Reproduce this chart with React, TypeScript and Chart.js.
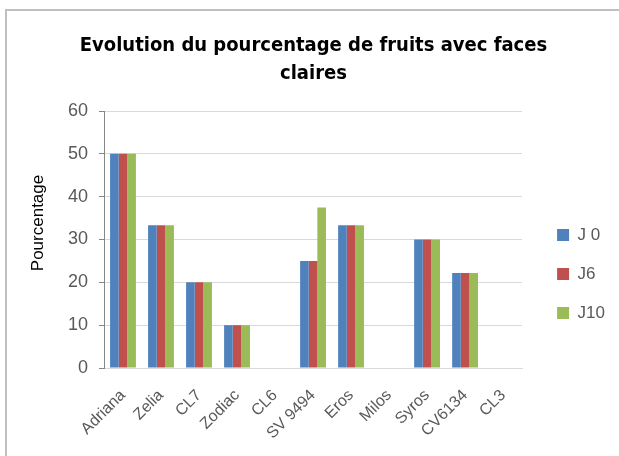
import React, { useEffect, useRef } from "react";
import { Chart, registerables } from "chart.js";

Chart.register(...registerables);

const categories = ["Adriana", "Zelia", "CL7", "Zodiac", "CL6", "SV 9494", "Eros", "Milos", "Syros", "CV6134", "CL3"];
const j0 = [50, 33.3, 20, 10, 0, 25, 33.3, 0, 30, 22.2, 0];
const j6 = [50, 33.3, 20, 10, 0, 25, 33.3, 0, 30, 22.2, 0];
const j10 = [50, 33.3, 20, 10, 0, 37.5, 33.3, 0, 30, 22.2, 0];
const seriesNames = ["J 0", "J6", "J10"];
const titleLines = ["Evolution du pourcentage de fruits avec faces", "claires"];
const yTicks = [0, 10, 20, 30, 40, 50, 60];

const framePlugin = {
  id: "frame",
  beforeDraw(chart: any) {
    const ctx = chart.ctx;
    ctx.save();
    ctx.fillStyle = "#FFFFFF";
    ctx.fillRect(0, 0, chart.width, chart.height);
    ctx.fillStyle = "#BFBFBF";
    ctx.fillRect(5, 9, chart.width, 2);
    ctx.fillRect(5, 9, 2, chart.height);
    ctx.restore();
  },
};

export default function App() {
  const ref = useRef<HTMLCanvasElement | null>(null);
  useEffect(() => {
    document.body.style.margin = "0";
    document.body.style.overflow = "hidden";
    document.documentElement.style.overflow = "hidden";
    if (!ref.current) return;
    const chart = new Chart(ref.current, {
      type: "bar",
      data: {
        labels: categories,
        datasets: [
          { label: seriesNames[0], data: j0, backgroundColor: "#4F81BD" },
          { label: seriesNames[1], data: j6, backgroundColor: "#C0504D" },
          { label: seriesNames[2], data: j10, backgroundColor: "#9BBB59" },
        ],
      },
      plugins: [framePlugin],
      options: {
        animation: false,
        responsive: false,
        devicePixelRatio: 1,
        layout: { padding: { left: 12, right: 4, top: 0, bottom: 0 } },
        datasets: { bar: { categoryPercentage: 0.68, barPercentage: 1 } },
        plugins: {
          title: {
            display: true,
            text: titleLines,
            color: "#000000",
            font: { family: "'Liberation Sans Narrow', 'DejaVu Sans Condensed', sans-serif", size: 20, weight: "bold", lineHeight: 1.4 },
            padding: { top: 32, bottom: 23 },
          },
          legend: {
            position: "right",
            title: {
              display: true,
              text: " ",
              font: { size: 10, lineHeight: 1 },
              padding: { top: 82, bottom: 0 },
            },
            labels: {
              boxWidth: 12,
              boxHeight: 12,
              padding: 22,
              color: "#595959",
              font: { family: "'Liberation Sans', sans-serif", size: 17 },
            },
          },
          tooltip: { enabled: false },
        },
        scales: {
          x: {
            grid: { display: false },
            border: { display: true, color: "#D9D9D9" },
            ticks: {
              color: "#595959",
              font: { family: "'Liberation Sans', sans-serif", size: 16 },
              maxRotation: 45,
              minRotation: 45,
              autoSkip: false,
              padding: 10,
            },
            afterFit: (s: any) => {
              s.height = 88;
            },
          },
          y: {
            min: 0,
            max: 60,
            afterBuildTicks: (s: any) => {
              s.ticks = yTicks.map((v) => ({ value: v }));
            },
            grid: { color: "#D9D9D9", tickColor: "#868686", tickLength: 5 },
            border: { display: true, color: "#868686" },
            ticks: {
              color: "#595959",
              font: { family: "'Liberation Sans', sans-serif", size: 18 },
              padding: 11,
            },
            title: {
              display: true,
              text: "       Pourcentage",
              color: "#000000",
              font: { family: "'Liberation Sans', sans-serif", size: 17 },
              padding: { top: 16, bottom: 4 },
            },
            afterFit: (s: any) => {
              s.width = 92;
            },
          },
          y2: {
            position: "right",
            display: true,
            grid: { display: false },
            border: { display: false },
            ticks: { display: false },
            afterFit: (s: any) => {
              s.width = 13;
            },
          },
        },
      },
    });
    return () => chart.destroy();
  }, []);
  return (
    <div style={{ width: 619, height: 456, overflow: "hidden" }}>
      <canvas ref={ref} width={619} height={456} style={{ display: "block" }} />
    </div>
  );
}
